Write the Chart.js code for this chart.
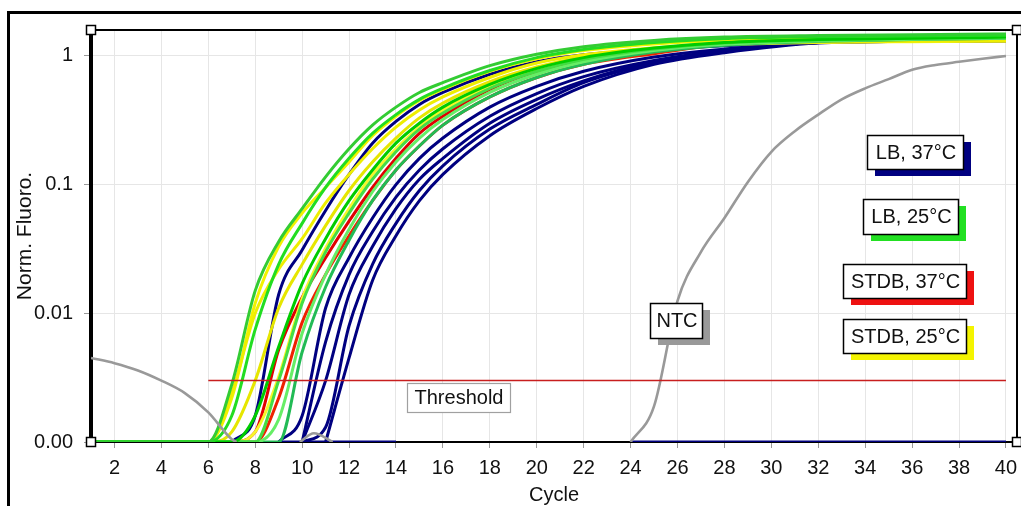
<!DOCTYPE html>
<html>
<head>
<meta charset="utf-8">
<script src="https://cdn.jsdelivr.net/npm/chart.js@4.4.0/dist/chart.umd.min.js"></script>
<style>
  html, body { margin: 0; padding: 0; background: #fff; }
</style>
</head>
<body>
<canvas id="pcrChart" width="1021" height="506"></canvas>
<script>
// ciclos en los que se leyeron los valores de las curvas
const cycles = [1, 6, 7, 8, 9, 10, 11, 12, 13, 14, 15, 16, 18, 20, 22, 25, 28, 32, 36, 40];
const xTicks = [2, 4, 6, 8, 10, 12, 14, 16, 18, 20, 22, 24, 26, 28, 30, 32, 34, 36, 38, 40];
const yTicks = [0.001, 0.01, 0.1, 1];

// LB, 25°C (verde)
const lb25a = [0.001, 0.001, 0.0028, 0.015, 0.036, 0.065, 0.115, 0.19, 0.29, 0.40, 0.52, 0.62, 0.84, 1.03, 1.18, 1.32, 1.40, 1.44, 1.46, 1.48];
const lb25b = [0.001, 0.001, 0.0016, 0.0075, 0.024, 0.05, 0.095, 0.16, 0.25, 0.35, 0.46, 0.56, 0.77, 0.97, 1.12, 1.27, 1.36, 1.41, 1.43, 1.45];
const lb25c = [0.001, 0.001, 0.001, 0.0016, 0.0055, 0.017, 0.038, 0.075, 0.13, 0.21, 0.30, 0.40, 0.60, 0.80, 0.97, 1.15, 1.27, 1.34, 1.37, 1.40];
const lb25d = [0.001, 0.001, 0.001, 0.001, 0.003, 0.012, 0.030, 0.060, 0.11, 0.18, 0.27, 0.36, 0.56, 0.76, 0.94, 1.13, 1.26, 1.33, 1.37, 1.40];
const lb25e = [0.001, 0.001, 0.001, 0.001, 0.0015, 0.007, 0.020, 0.045, 0.088, 0.15, 0.23, 0.32, 0.52, 0.72, 0.90, 1.10, 1.23, 1.31, 1.35, 1.38];
const lb25f = [0.001, 0.001, 0.001, 0.001, 0.001, 0.005, 0.016, 0.037, 0.075, 0.13, 0.20, 0.29, 0.48, 0.68, 0.86, 1.07, 1.21, 1.30, 1.34, 1.37];

// STDB, 25°C (amarillo)
const stdb25a = [0.001, 0.001, 0.0024, 0.010, 0.022, 0.038, 0.072, 0.12, 0.19, 0.28, 0.38, 0.48, 0.68, 0.88, 1.02, 1.16, 1.24, 1.28, 1.30, 1.31];
const stdb25b = [0.001, 0.001, 0.0022, 0.012, 0.033, 0.06, 0.095, 0.15, 0.24, 0.34, 0.45, 0.55, 0.76, 0.95, 1.10, 1.24, 1.32, 1.36, 1.38, 1.39];
const stdb25c = [0.001, 0.001, 0.0012, 0.003, 0.011, 0.024, 0.048, 0.09, 0.15, 0.23, 0.33, 0.43, 0.63, 0.82, 0.98, 1.14, 1.24, 1.29, 1.31, 1.32];
const stdb25d = [0.001, 0.001, 0.001, 0.0012, 0.0032, 0.013, 0.032, 0.065, 0.12, 0.19, 0.28, 0.38, 0.58, 0.78, 0.95, 1.12, 1.22, 1.27, 1.29, 1.30];

// STDB, 37°C (rojo)
const stdb37a = [0.001, 0.001, 0.001, 0.0012, 0.0052, 0.0133, 0.027, 0.052, 0.095, 0.16, 0.25, 0.34, 0.55, 0.76, 0.93, 1.10, 1.26, 1.33, 1.37, 1.40];
const stdb37b = [0.001, 0.001, 0.001, 0.001, 0.0022, 0.0085, 0.020, 0.040, 0.075, 0.13, 0.20, 0.29, 0.48, 0.68, 0.86, 1.04, 1.23, 1.31, 1.35, 1.38];

// LB, 37°C (azul marino)
const lb37a = [null, null, 0.001, 0.0016, 0.014, 0.031, 0.063, 0.12, 0.21, 0.31, 0.42, 0.52, 0.72, 0.90, 1.02, 1.12, 1.20, 1.28, 1.30, 1.31];
const lb37b = [null, null, null, null, 0.001, 0.0016, 0.011, 0.027, 0.055, 0.10, 0.16, 0.23, 0.40, 0.58, 0.76, 0.98, 1.13, 1.27, 1.30, 1.31];
const lb37c = [null, null, null, null, null, 0.001, 0.006, 0.020, 0.043, 0.08, 0.13, 0.19, 0.34, 0.51, 0.69, 0.92, 1.10, 1.27, 1.30, 1.31];
const lb37d = [null, null, null, null, null, 0.001, 0.003, 0.014, 0.033, 0.065, 0.11, 0.16, 0.30, 0.46, 0.64, 0.90, 1.09, 1.27, 1.30, 1.31];
const lb37e = [null, null, null, null, null, 0.001, 0.0013, 0.008, 0.024, 0.05, 0.09, 0.14, 0.27, 0.42, 0.62, 0.88, 1.08, 1.27, 1.30, 1.31];
const lb37f = [null, null, null, null, null, null, 0.001, 0.0045, 0.018, 0.040, 0.075, 0.12, 0.24, 0.39, 0.58, 0.86, 1.06, 1.26, 1.30, 1.31];
const lb37flatCycles = [9, 14, 15, 24, 40];
const lb37flat = [0.001, 0.001, null, 0.001, 0.001];

// NTC (gris)
const ntcCycles = [24, 25, 26, 27, 28, 29, 30, 31, 32, 33, 34, 35, 36, 37, 38, 39, 40];
const ntc = [0.001, 0.0019, 0.0125, 0.03, 0.055, 0.105, 0.18, 0.26, 0.35, 0.46, 0.56, 0.66, 0.78, 0.85, 0.90, 0.95, 1.0];
const ntc2Cycles = [1, 2, 3, 4, 5, 6, 7, 7.2, 8, 9.9, 10.5, 11.3];
const ntc2 = [0.0045, 0.0041, 0.0036, 0.003, 0.0024, 0.0017, 0.00105, 0.001, null, 0.001, 0.00117, 0.001];

// umbral
const thresholdCycles = [6, 40];
const threshold = [0.003, 0.003];

const labelTexts = ['LB, 37°C', 'LB, 25°C', 'STDB, 37°C', 'STDB, 25°C', 'NTC'];
const labelColors = ['#000080', '#22e022', '#ee1111', '#f4f400', '#999999'];

const pts = (xs, ys) => xs.map((x, i) => ({ x: x, y: ys[i] }));

function serie(vals, color, xs) {
    return {
        data: pts(xs || cycles, vals),
        borderColor: color,
        borderWidth: 3,
        pointRadius: 0,
        cubicInterpolationMode: 'monotone',
        spanGaps: false
    };
}

const FONT = "'Liberation Sans', Arial, sans-serif";

const framePlugin = {
    id: 'framePlugin',
    beforeDraw(chart) {
        const c = chart.ctx;
        c.save();
        c.fillStyle = '#fff';
        c.fillRect(0, 0, chart.width, chart.height);
        c.strokeStyle = '#000';
        c.lineWidth = 3;
        c.strokeRect(8.5, 12.5, 1100, 600);
        c.restore();
    },
    afterDraw(chart) {
        const c = chart.ctx;
        const a = chart.chartArea;
        c.save();
        // bordes superior y derecho
        c.strokeStyle = '#000';
        c.lineWidth = 2;
        c.beginPath();
        c.moveTo(a.left, a.top);
        c.lineTo(a.right, a.top);
        c.lineTo(a.right, a.bottom);
        c.stroke();
        // cuadritos de las esquinas
        c.lineWidth = 1.5;
        [[a.left, a.top], [a.left, a.bottom], [a.right, a.top], [a.right, a.bottom]].forEach(p => {
            c.fillStyle = '#fff';
            c.fillRect(p[0] - 4.5, p[1] - 4.5, 9, 9);
            c.strokeRect(p[0] - 4.5, p[1] - 4.5, 9, 9);
        });

        c.font = '20px ' + FONT;
        c.textAlign = 'center';
        c.textBaseline = 'middle';

        // etiqueta del umbral
        c.fillStyle = '#fff';
        c.fillRect(407, 383, 103, 29);
        c.strokeStyle = '#a0a0a0';
        c.lineWidth = 1.2;
        c.strokeRect(407.5, 383.5, 103, 29);
        c.fillStyle = '#111';
        c.fillText('Threshold', 459, 398.5);

        // cajas con sombra
        const boxes = [[867, 135, 96, 34], [863, 199, 95, 35], [843, 264, 123, 34], [843, 319, 123, 34], [650, 303, 52, 35]];
        boxes.forEach((b, i) => {
            c.fillStyle = labelColors[i];
            c.fillRect(b[0] + 8, b[1] + 7, b[2], b[3]);
            c.fillStyle = '#fff';
            c.fillRect(b[0], b[1], b[2], b[3]);
            c.strokeStyle = '#000';
            c.lineWidth = 1.5;
            c.strokeRect(b[0] + 0.5, b[1] + 0.5, b[2], b[3]);
            c.fillStyle = '#111';
            c.fillText(labelTexts[i], b[0] + b[2] / 2 + 1, b[1] + b[3] / 2 + 1);
        });
        c.restore();
    }
};

const datasets = [
    serie(threshold, '#c81e1e', thresholdCycles),
    serie(ntc, '#999999', ntcCycles),
    serie(ntc2, '#999999', ntc2Cycles),
    serie(lb25a, '#33cc33'),
    serie(lb25b, '#22dd22'),
    serie(lb25c, '#00cc00'),
    serie(lb25d, '#44dd44'),
    serie(lb25e, '#66ee66'),
    serie(lb25f, '#22bb55'),
    serie(stdb25a, '#eeee00'),
    serie(stdb25b, '#f2f200'),
    serie(stdb25c, '#e6e600'),
    serie(stdb25d, '#f6f62a'),
    serie(stdb37a, '#e00000'),
    serie(stdb37b, '#ee2200'),
    serie(lb37a, '#000080'),
    serie(lb37b, '#000080'),
    serie(lb37c, '#000080'),
    serie(lb37d, '#000080'),
    serie(lb37e, '#000080'),
    serie(lb37f, '#000080'),
    serie(lb37flat, '#000080', lb37flatCycles)
];
datasets[0].borderWidth = 1.5;
datasets[0].cubicInterpolationMode = 'default';
datasets[0].tension = 0;
datasets[1].borderWidth = 2.6;
datasets[2].borderWidth = 2.6;

new Chart(document.getElementById('pcrChart'), {
    type: 'line',
    data: { datasets: datasets },
    plugins: [framePlugin],
    options: {
        responsive: false,
        animation: false,
        layout: { padding: { left: 0, right: 4, top: 30, bottom: 0 } },
        plugins: { legend: { display: false }, tooltip: { enabled: false } },
        scales: {
            x: {
                type: 'linear',
                min: 1,
                max: 40.47,
                afterBuildTicks: s => { s.ticks = xTicks.map(v => ({ value: v })); },
                afterFit: s => { s.height = 64; s.paddingLeft = 0; s.paddingRight = 0; },
                ticks: {
                    color: '#111',
                    font: { family: FONT, size: 20 },
                    padding: 8,
                    maxRotation: 0,
                    autoSkip: false,
                    callback: v => String(v)
                },
                grid: { color: '#e6e6e6', tickColor: '#999', tickLength: 6 },
                border: { color: '#000', width: 2 },
                title: {
                    display: true,
                    text: 'Cycle',
                    color: '#111',
                    font: { family: FONT, size: 20, lineHeight: 1.1 },
                    padding: { top: 0, bottom: 0 }
                }
            },
            y: {
                type: 'logarithmic',
                min: 0.001,
                max: 1.59,
                afterBuildTicks: s => { s.ticks = yTicks.map(v => ({ value: v })); },
                afterFit: s => { s.width = 91; s.paddingTop = 0; s.paddingBottom = 0; },
                ticks: {
                    color: '#111',
                    font: { family: FONT, size: 20 },
                    padding: 11,
                    autoSkip: false,
                    callback: v => (v === 0.001 ? '0.00' : String(v))
                },
                grid: { color: '#e6e6e6', tickColor: '#999', tickLength: 7 },
                border: { color: '#000', width: 4 },
                title: {
                    display: true,
                    text: 'Norm. Fluoro.',
                    color: '#111',
                    font: { family: FONT, size: 21 },
                    padding: { top: 13, bottom: 0 }
                }
            }
        }
    }
});
</script>
</body>
</html>
